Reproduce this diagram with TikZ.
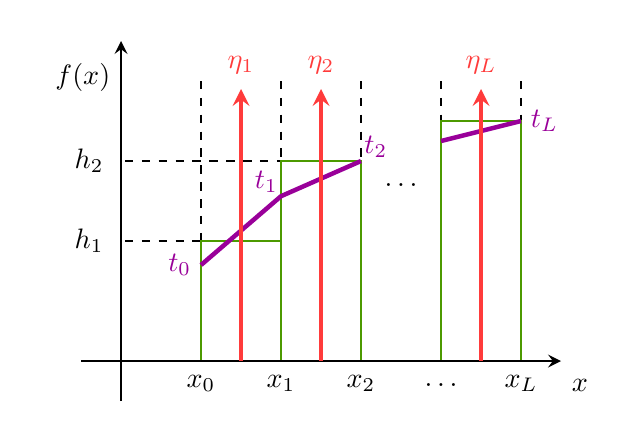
\documentclass[tikz,border=0pt]{standalone}
\usepackage{tikz}
\usetikzlibrary {arrows, positioning}

\definecolor{barred}{RGB}{255,59,59}
\definecolor{bingreen}{RGB}{76,154,0}
\definecolor{knotpurple}{RGB}{153,0,153}

\begin{document}
\begin{tikzpicture}[
    >=stealth,
    axis/.style = {->, line width = 1pt},
    guide/.style = {dashed, line width = 1pt},
    bin/.style = {draw = bingreen, line width = 1pt},
    spline/.style = {draw = knotpurple, line width = 1.6pt},
    eta/.style = {->, draw = barred, line width = 1.6pt},
]
    \useasboundingbox (-1.5125, -1.025) rectangle (6.525, 4.5125);

    \coordinate (O)  at (0, 0);
    \coordinate (T0) at (1, 1.2);
    \coordinate (T1) at (2, 2.06);
    \coordinate (T2) at (3, 2.5);
    \coordinate (TK) at (4, 2.75);
    \coordinate (TL) at (5, 3);

    % guides
    \draw[guide] (1, 3.5) -- (1, 1.5);
    \foreach \x in {2, 3, 4, 5}
        \draw[guide] (\x, 3.5) -- (\x, 0);
    \draw[guide] (0.05, 1.5) -- (1, 1.5);
    \draw[guide] (0.05, 2.5) -- (2, 2.5);

    % bins
    \draw[bin] (1, 0) rectangle (2, 1.5);
    \draw[bin] (2, 0) rectangle (3, 2.5);
    \draw[bin] (4, 0) rectangle (5, 3);

    % axes
    \draw[axis] (-0.5, 0) -- (5.5, 0) node (X) [below right = 0.1cm and 0cm] {$x$};
    \draw[axis] (0, -0.5) -- (0, 4) node (F) [below left = 0.15cm and 0cm] {$f(x)$};

    % knots
    \draw[spline] (T0) -- (T1) -- (T2);
    \draw[spline] (TK) -- (TL);

    % heights
    \foreach \x/\lab in {1.5/1, 2.5/2, 4.5/L} {
        \draw[eta] (\x, 0) -- (\x, 3.4);
        \node[text = barred] (E\lab) at (\x, 3.7) {$\eta_{\lab}$};
    }

    \node[text = knotpurple, left = 0cm of T0]                    (t0) {$t_0$};
    \node[text = knotpurple, anchor = south east, inner sep = 1pt] (t1) at (T1) {$t_1$};
    \node[text = knotpurple, anchor = south west, inner sep = 1pt] (t2) at (T2) {$t_2$};
    \node[text = knotpurple, right = 0cm of TL]                   (tL) {$t_L$};

    \node (h1) at (-0.4, 1.5) {$h_1$};
    \node (h2) at (-0.4, 2.5) {$h_2$};

    \foreach \x/\lab in {1/0, 2/1, 3/2, 5/L}
        \node (x\lab) at (\x, -0.28) {$x_{\lab}$};
    \node (xdots) at (4, -0.3) {$\dots$};
    \node (mdots) at (3.5, 2.2) {$\dots$};
\end{tikzpicture}
\end{document}
